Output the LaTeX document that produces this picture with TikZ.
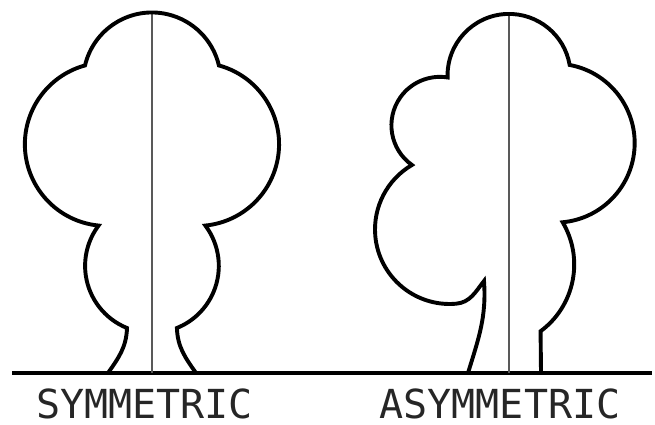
\documentclass[tikz,border=0pt]{standalone}
\usepackage{fontspec}
\newfontfamily\namefont{DejaVu Sans Mono}

\tikzset{
  outline/.style={line width=3.9pt, miter limit=4},
  midline/.style={line width=1.7pt, black!65},
  treename/.style={font=\namefont\fontsize{40}{40}\selectfont, text=black!85, anchor=base, inner sep=0pt, text depth=0pt}
}

\begin{document}
\begin{tikzpicture}[x=1pt, y=1pt]

\useasboundingbox (0,0) rectangle (655,424);

\def \ground{51}
\def \axl{152}
\def \axr{509}

% ground line
\draw [outline] (12,\ground) -- (652,\ground);

% symmetric tree: lobes mirrored about the axis
\draw [midline] (\axl,\ground) -- (\axl,411.5);
\draw [outline] (108,\ground) to[out=55, in=-92] (127,96)
	arc[start angle=248, end angle=143, radius=67]
	arc[start angle=264.4, end angle=105.3, radius=81.7]
	arc[start angle=166.7, end angle=13.3, radius=68.8]
	arc[start angle=74.7, end angle=-84.4, radius=81.7]
	arc[start angle=37, end angle=-68, radius=67]
	to[out=-88, in=125] (196,\ground);

% asymmetric tree: hooked lobe on the left, straight trunk on the right
\draw [midline] (\axr,\ground) -- (\axr,410);
\draw [outline] (468,\ground) to[out=73, in=-86] (484,143)
	to[out=-128, in=5] (456.1,120.3)
	arc[start angle=275, end angle=120.3, radius=74.6]
	arc[start angle=234.8, end angle=80.9, radius=48.5]
	arc[start angle=181.9, end angle=9.8, radius=61.5]
	arc[start angle=79.5, end angle=-84.6, radius=79.5]
	arc[start angle=30.6, end angle=-53.5, radius=83]
	-- (541,\ground);

\node [treename] (sym) at (144.5,6) {SYMMETRIC};
\node [treename] (asym) at (500,6) {ASYMMETRIC};

\end{tikzpicture}
\end{document}
